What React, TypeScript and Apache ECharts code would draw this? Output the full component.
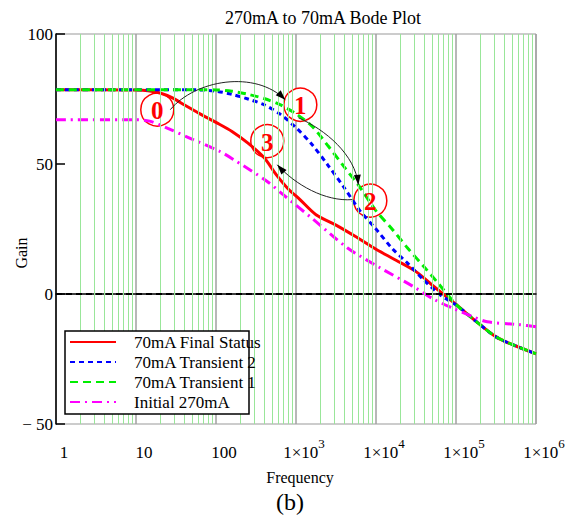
import React, { useEffect, useRef } from 'react';
import * as echarts from 'echarts';

// ---- data (log10 of frequency, gain) ----
const logFreqRed = [0, 0.5, 1.0, 1.15, 1.3, 1.45, 1.6, 1.8, 2.0, 2.2, 2.4, 2.6, 2.75, 2.9, 3.05, 3.25, 3.5, 3.75, 4.0, 4.25, 4.5, 4.75, 5.0, 5.25, 5.5, 5.75, 6.0];
const gainRed = [78.6, 78.6, 78.5, 78.2, 77.3, 75.5, 72.8, 69.3, 66, 62.5, 58, 52.5, 46, 40.5, 36.3, 30.5, 26.5, 22, 17.2, 13, 8.6, 2.2, -4, -10.5, -16.5, -20, -23];

const logFreqBlue = [0, 1, 1.8, 2.0, 2.2, 2.4, 2.6, 2.8, 3.0, 3.2, 3.4, 3.6, 3.8, 4.0, 4.2, 4.4, 4.6, 4.8, 5.0, 5.25, 5.5, 5.75, 6];
const gainBlue = [78.6, 78.6, 78.5, 78, 76.8, 75, 72.8, 69.2, 64, 57.5, 49.5, 41, 32, 25, 17.6, 11.7, 5.3, -0.3, -4.2, -10.5, -16.5, -20, -23];

const logFreqGreen = [0, 1, 2.0, 2.2, 2.4, 2.6, 2.8, 3.0, 3.2, 3.4, 3.6, 3.8, 4.0, 4.2, 4.4, 4.6, 4.8, 5.0, 5.25, 5.5, 5.75, 6];
const gainGreen = [78.6, 78.6, 78.5, 78, 76.8, 75.2, 72.8, 69.3, 64.5, 57, 49, 41, 32, 25, 17.5, 10.5, 3.3, -4, -10.5, -16.5, -20, -23];

const logFreqMagenta = [0, 1.0, 1.17, 1.39, 1.72, 2.05, 2.22, 2.64, 2.84, 3.22, 3.64, 4.05, 4.47, 4.72, 4.97, 5.2, 5.39, 5.8, 6.0];
const gainMagenta = [67, 67, 66.5, 63.8, 59.3, 54.8, 51.7, 43.3, 38.2, 28.6, 17.8, 10.1, 2.8, -2, -5.6, -8.6, -10.7, -11.8, -12.6];

const seriesNames = ['70mA Final Status', '70mA Transient 2', '70mA Transient 1', 'Initial 270mA'];
const yTicks = [-50, 0, 50, 100];
const yTickLabels = ['\u2212 50', '0', '50', '100'];
const xTickLabels = ['1', '10', '100', '1\u00d710^3', '1\u00d710^4', '1\u00d710^5', '1\u00d710^6'];

// annotation markers, in (log10 f, gain)
const markerLabels = ['0', '1', '2', '3'];
const markerLogF = [1.266, 3.054, 3.929, 2.641];
const markerGain = [70.9, 72.8, 35.9, 58.8];

// arrows: 4 bezier control points each, in (log10 f, gain)
const arrowLogF = [
  [1.429, 1.741, 2.491, 2.866],
  [3.029, 3.366, 3.741, 3.779],
  [3.704, 3.366, 2.991, 2.766],
];
const arrowGain = [
  [70.9, 82.4, 86.3, 74.7],
  [67.8, 63.2, 53.6, 42.0],
  [36.3, 35.5, 42.0, 49.7],
];

const SERIF = '"Liberation Serif", "DejaVu Serif", serif';

function toPairs(lf: number[], g: number[]) {
  return lf.map((l, i) => [Math.pow(10, l), g[i]]);
}

export default function App() {
  const ref = useRef<HTMLDivElement>(null);
  useEffect(() => {
    if (!ref.current) return;
    const chart = echarts.init(ref.current, undefined, { renderer: 'svg' });

    const minorValues: number[] = [];
    for (let e = 0; e < 6; e++) {
      for (let m = 2; m <= 9; m++) minorValues.push(m * Math.pow(10, e));
    }

    const lineColors = ['#ff0000', '#0000ff', '#00ee00', '#ff00ff'];
    const lineTypes: any[] = ['solid', [5, 4], [8, 5], [10, 5, 2, 5]];
    const datasets = [
      toPairs(logFreqRed, gainRed),
      toPairs(logFreqBlue, gainBlue),
      toPairs(logFreqGreen, gainGreen),
      toPairs(logFreqMagenta, gainMagenta),
    ];

    const option: any = {
      animation: false,
      backgroundColor: '#ffffff',
      grid: {
        left: 56, right: 37, top: 34, bottom: 92,
        show: true, borderColor: '#999999', borderWidth: 1,
        containLabel: false, outerBoundsMode: 'none',
      },
      legend: {
        data: seriesNames,
        orient: 'vertical',
        left: 69,
        top: 332,
        itemWidth: 46,
        itemHeight: 14,
        itemGap: 0,
        padding: 0,
        z: 6,
        itemStyle: { opacity: 0 },
        textStyle: { fontFamily: SERIF, fontSize: 17, lineHeight: 20, color: '#000', padding: [0, 0, 0, 13] },
      },
      xAxis: {
        type: 'log',
        logBase: 10,
        min: 1,
        max: 1000000,
        axisLine: { show: true, lineStyle: { color: '#000', width: 1.5 } },
        axisTick: { show: false },
        splitLine: { show: true, lineStyle: { color: '#a0a0a0', width: 1.5 } },
        axisLabel: {
          fontFamily: SERIF, fontSize: 17, color: '#000', margin: 13,
          padding: [0, 0, 0, 16],
          formatter: (v: number) => {
            const e = Math.round(Math.log10(v));
            const s = xTickLabels[e] || '';
            if (s.indexOf('^') >= 0) {
              const [b, p] = s.split('^');
              return '{b|' + b + '}{sup|' + p + '}';
            }
            return '{b|' + s + '}';
          },
          rich: {
            b: { fontFamily: SERIF, fontSize: 17, color: '#000', lineHeight: 30, verticalAlign: 'middle' },
            sup: { fontFamily: SERIF, fontSize: 13, color: '#000', lineHeight: 14, verticalAlign: 'top' },
          },
        },
      },
      yAxis: {
        type: 'value',
        min: -50,
        max: 100,
        interval: 50,
        axisLine: { show: true, lineStyle: { color: '#000', width: 1.5 } },
        axisTick: { show: true, inside: true, length: 9, lineStyle: { color: '#000', width: 1.5 } },
        splitLine: { show: false },
        axisLabel: {
          fontFamily: SERIF, fontSize: 17, color: '#000', margin: 3,
          formatter: (v: number) => {
            const i = yTicks.indexOf(v);
            return i >= 0 ? yTickLabels[i] : '';
          },
        },
      },
      series: [
        {
          name: '__grid',
          type: 'line',
          data: [],
          z: 1,
          silent: true,
          markLine: {
            silent: true,
            symbol: ['none', 'none'],
            label: { show: false },
            lineStyle: { color: '#99e699', width: 1, type: 'solid' },
            data: minorValues.map((v) => ({ xAxis: v })),
          },
        },
        {
          name: '__zero',
          type: 'line',
          data: [],
          z: 2,
          silent: true,
          markLine: {
            silent: true,
            symbol: ['none', 'none'],
            label: { show: false },
            lineStyle: { color: '#000000', width: 2, type: [6, 4] },
            data: [{ yAxis: 0 }],
          },
        },
        ...datasets.map((d, i) => ({
          name: seriesNames[i],
          type: 'line',
          data: d,
          symbol: 'none',
          smooth: 0.3,
          z: 3,
          lineStyle: { color: lineColors[i], width: 3, type: lineTypes[i] },
          itemStyle: { color: lineColors[i] },
        })),
      ],
    };

    chart.setOption(option);

    const px = (lf: number, g: number) =>
      chart.convertToPixel({ gridIndex: 0 }, [Math.pow(10, lf), g]) as number[];

    const graphics: any[] = [];
    graphics.push({
      type: 'rect', z: 5,
      shape: { x: 65, y: 331, width: 184, height: 83 },
      style: { fill: '#ffffff', stroke: '#000000', lineWidth: 1.5 },
    });
    graphics.push({
      type: 'text', z: 6, x: 323, y: 18,
      style: { text: '270mA to 70mA Bode Plot', fontFamily: SERIF, fontSize: 18, fill: '#000', align: 'center', verticalAlign: 'middle' },
    });
    graphics.push({
      type: 'text', z: 6, x: 300, y: 477,
      style: { text: 'Frequency', fontFamily: SERIF, fontSize: 16, fill: '#000', align: 'center', verticalAlign: 'middle' },
    });
    graphics.push({
      type: 'text', z: 6, x: 290, y: 502,
      style: { text: '(b)', fontFamily: SERIF, fontSize: 24, fill: '#000', align: 'center', verticalAlign: 'middle' },
    });
    graphics.push({
      type: 'text', z: 6, x: 21, y: 253, rotation: Math.PI / 2,
      style: { text: 'Gain', fontFamily: SERIF, fontSize: 16, fill: '#000', align: 'center', verticalAlign: 'middle' },
    });

    markerLabels.forEach((lab, i) => {
      const [cx, cy] = px(markerLogF[i], markerGain[i]);
      graphics.push({
        type: 'circle', z: 2.5,
        shape: { cx, cy, r: 16.5 },
        style: { fill: '#ffffff', stroke: '#ff0000', lineWidth: 1.5 },
      });
      graphics.push({
        type: 'text', z: 7, x: cx, y: cy + 1,
        style: { text: lab, fontFamily: SERIF, fontSize: 25, fontWeight: 'bold', fill: '#ff0000', align: 'center', verticalAlign: 'middle' },
      });
    });

    arrowLogF.forEach((lfs, i) => {
      const pts = lfs.map((l, k) => px(l, arrowGain[i][k]));
      graphics.push({
        type: 'bezierCurve', z: 8,
        shape: {
          x1: pts[0][0], y1: pts[0][1],
          cpx1: pts[1][0], cpy1: pts[1][1],
          cpx2: pts[2][0], cpy2: pts[2][1],
          x2: pts[3][0], y2: pts[3][1],
        },
        style: { stroke: '#222', lineWidth: 1, fill: null },
      });
      const dx = pts[3][0] - pts[2][0];
      const dy = pts[3][1] - pts[2][1];
      const len = Math.sqrt(dx * dx + dy * dy) || 1;
      const ux = dx / len, uy = dy / len;
      const bx = pts[3][0] - ux * 10, by = pts[3][1] - uy * 10;
      const nx = -uy, ny = ux;
      graphics.push({
        type: 'polygon', z: 8,
        shape: { points: [[pts[3][0], pts[3][1]], [bx + nx * 3.5, by + ny * 3.5], [bx - nx * 3.5, by - ny * 3.5]] },
        style: { fill: '#000' },
      });
    });

    chart.setOption({ graphic: graphics });

    return () => chart.dispose();
  }, []);

  return <div ref={ref} style={{ position: 'fixed', left: 0, top: 0, width: 573, height: 516 }} />;
}
